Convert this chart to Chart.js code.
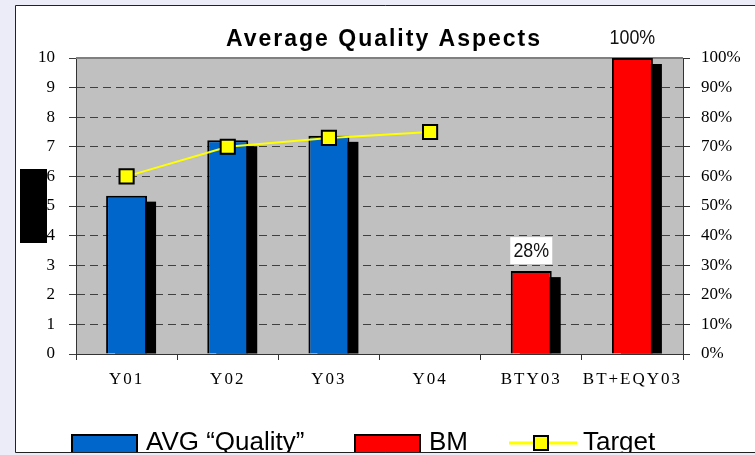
<!DOCTYPE html>
<html>
<head>
<meta charset="utf-8">
<script src="https://cdn.jsdelivr.net/npm/chart.js@4.4.1/dist/chart.umd.min.js"></script>
<style>
  html, body { margin: 0; padding: 0; background: #ececf8; }
  canvas { display: block; }
</style>
</head>
<body>
<canvas id="qualityChart" width="755" height="455"></canvas>
<script>
// data
const categories = ['Y01', 'Y02', 'Y03', 'Y04', 'BTY03', 'BT+EQY03'];
const avgQuality = [5.35, 7.22, 7.37, null, null, null];  // left axis
const bmPercent = [null, null, null, null, 28, 100];       // right axis, %
const target = [6.0, 7.0, 7.3, 7.5, null, null];           // left axis
const seriesNames = ['AVG \u201CQuality\u201D', 'BM', 'Target'];
const chartTitle = 'Average Quality Aspects';

const LAVENDER = '#ececf8';
const SERIF = "'Liberation Serif', 'Times New Roman', serif";
const SANS = "'Liberation Sans', Arial, sans-serif";

// frame, grey plot, bar shadows, title, labels and legend
const decorPlugin = {
    id: 'decor',
    beforeDraw(chart) {
        const { ctx, chartArea: a } = chart;
        ctx.save();
        ctx.fillStyle = LAVENDER;
        ctx.fillRect(0, 0, chart.width, chart.height);
        ctx.fillStyle = '#fff';
        ctx.fillRect(15, 5, chart.width - 15, 447);
        ctx.fillStyle = '#c0c0c0';
        ctx.fillRect(a.left, a.top, a.right - a.left, a.bottom - a.top);
        ctx.restore();
    },
    beforeDatasetsDraw(chart) {
        const { ctx, chartArea: a } = chart;
        ctx.save();
        ctx.strokeStyle = '#808080';
        ctx.lineWidth = 2;
        ctx.beginPath();
        ctx.moveTo(a.left, a.top);
        ctx.lineTo(a.right, a.top);
        ctx.stroke();
        // black drop shadow behind each bar
        ctx.fillStyle = '#000';
        chart.data.datasets.forEach((ds, i) => {
            if (ds.type !== 'bar') return;
            chart.getDatasetMeta(i).data.forEach(bar => {
                const p = bar.getProps(['x', 'y', 'base', 'width'], true);
                if (!(p.base - p.y > 6)) return;
                ctx.fillRect(p.x - p.width / 2 + 9, p.y + 6, p.width, p.base - p.y - 6);
            });
        });
        ctx.restore();
    },
    afterDatasetsDraw(chart) {
        // x tick labels are drawn after this (ticks.z: 1) and are letter-spaced
        chart.ctx.letterSpacing = '2px';
    },
    afterDraw(chart) {
        const ctx = chart.ctx;
        ctx.save();
        ctx.letterSpacing = '2px';

        // title
        ctx.font = 'bold 23px ' + SANS;
        ctx.fillStyle = '#000';
        ctx.textBaseline = 'alphabetic';
        ctx.textAlign = 'left';
        const tw = ctx.measureText(chartTitle).width;
        ctx.fillText(chartTitle, 384 - tw / 2, 46);
        ctx.letterSpacing = '0px';

        // value labels over BM bars
        const meta = chart.getDatasetMeta(1);
        meta.data.forEach((bar, i) => {
            const v = bmPercent[i];
            if (v == null) return;
            const cy = bar.y - 21;
            ctx.fillStyle = '#fff';
            ctx.fillRect(bar.x - 21, cy - 13, 42, 27);
            ctx.save();
            ctx.translate(bar.x, cy);
            ctx.scale(0.85, 1);
            ctx.font = '21px ' + SANS;
            ctx.fillStyle = '#111';
            ctx.textAlign = 'center';
            ctx.textBaseline = 'middle';
            ctx.fillText(v + '%', 0, 1);
            ctx.restore();
        });

        // hidden axis title box
        ctx.fillStyle = '#000';
        ctx.fillRect(20, 169, 27, 74);

        // legend
        const ds = chart.data.datasets;
        ctx.font = '26px ' + SANS;
        ctx.textAlign = 'left';
        ctx.textBaseline = 'alphabetic';
        ctx.lineWidth = 2;
        [[72, 146, ds[0]], [355, 429, ds[1]]].forEach(([bx, tx, d]) => {
            ctx.fillStyle = d.backgroundColor;
            ctx.fillRect(bx, 435, 65, 20);
            ctx.strokeStyle = '#000';
            ctx.strokeRect(bx, 435, 65, 20);
            ctx.fillStyle = '#000';
            ctx.fillText(d.label, tx, 450);
        });
        ctx.strokeStyle = ds[2].borderColor;
        ctx.lineWidth = 3;
        ctx.beginPath();
        ctx.moveTo(509, 443);
        ctx.lineTo(577, 443);
        ctx.stroke();
        ctx.fillStyle = ds[2].pointBackgroundColor;
        ctx.fillRect(534, 436, 14, 14);
        ctx.strokeStyle = '#000';
        ctx.lineWidth = 2;
        ctx.strokeRect(534, 436, 14, 14);
        ctx.fillStyle = '#000';
        ctx.fillText(ds[2].label, 583, 450);

        // frame edges
        ctx.fillStyle = LAVENDER;
        ctx.fillRect(0, 453, chart.width, chart.height - 453);
        ctx.fillRect(0, 0, 15, chart.height);
        ctx.fillRect(0, 0, chart.width, 5);
        ctx.strokeStyle = '#222';
        ctx.lineWidth = 1;
        ctx.beginPath();
        ctx.moveTo(15.5, 5.5);
        ctx.lineTo(chart.width, 5.5);
        ctx.moveTo(15.5, 5.5);
        ctx.lineTo(15.5, 452.5);
        ctx.lineTo(chart.width, 452.5);
        ctx.stroke();
        ctx.restore();
    }
};

new Chart(document.getElementById('qualityChart'), {
    type: 'bar',
    data: {
        labels: categories,
        datasets: [{
            type: 'bar',
            label: seriesNames[0],
            data: avgQuality,
            yAxisID: 'y',
            backgroundColor: '#0066cc',
            borderColor: '#000',
            borderWidth: 2,
            grouped: false,
            categoryPercentage: 1,
            barPercentage: 0.405,
            order: 2
        }, {
            type: 'bar',
            label: seriesNames[1],
            data: bmPercent,
            yAxisID: 'y1',
            backgroundColor: '#ff0000',
            borderColor: '#000',
            borderWidth: 2,
            grouped: false,
            categoryPercentage: 1,
            barPercentage: 0.405,
            order: 2
        }, {
            type: 'line',
            label: seriesNames[2],
            data: target,
            yAxisID: 'y',
            borderColor: '#ffff00',
            borderWidth: 2,
            pointStyle: 'rect',
            pointRadius: 10,
            pointBackgroundColor: '#ffff00',
            pointBorderColor: '#000',
            pointBorderWidth: 2,
            order: 1
        }]
    },
    options: {
        responsive: false,
        animation: false,
        layout: { padding: { top: 58, left: 16, right: 0, bottom: 61 } },
        plugins: {
            legend: { display: false },
            title: { display: false },
            tooltip: { enabled: false }
        },
        scales: {
            x: {
                afterFit: s => { s.height = 40; },
                grid: { drawOnChartArea: false, tickLength: 6, color: '#333' },
                border: { color: '#333', width: 1 },
                ticks: { z: 1, color: '#000', padding: 9, font: { family: SERIF, size: 17 } }
            },
            y: {
                position: 'left',
                min: 0,
                max: 10,
                afterFit: s => { s.width = 60; },
                grid: { color: '#404040', tickLength: 7, lineWidth: 1 },
                border: { color: '#333', width: 1, dash: [8, 5] },
                ticks: { stepSize: 1, color: '#000', padding: 14, font: { family: SERIF, size: 17 } }
            },
            y1: {
                position: 'right',
                min: 0,
                max: 100,
                afterFit: s => { s.width = 72; },
                grid: { drawOnChartArea: false, tickLength: 7, color: '#333' },
                border: { color: '#333', width: 1 },
                ticks: {
                    stepSize: 10,
                    color: '#000',
                    padding: 11,
                    font: { family: SERIF, size: 17 },
                    callback: v => v + '%'
                }
            }
        }
    },
    plugins: [decorPlugin]
});
</script>
</body>
</html>
